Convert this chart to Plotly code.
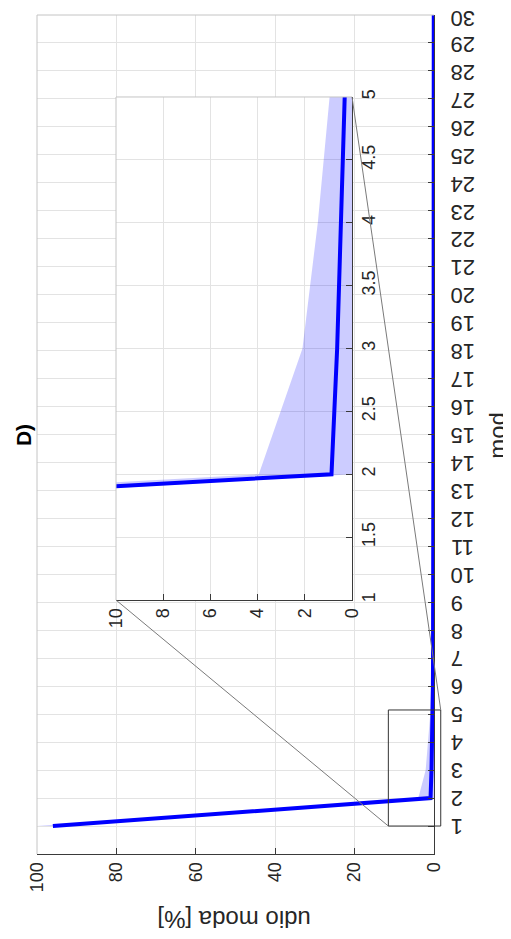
import plotly.graph_objects as go

# ---------------- data ----------------
MOD = list(range(1, 31))
MEAN = [96.0, 0.87, 0.63, 0.46, 0.31, 0.27, 0.24, 0.21, 0.19, 0.17,
        0.16, 0.15, 0.14, 0.13, 0.12, 0.11, 0.11, 0.10, 0.10, 0.09,
        0.09, 0.08, 0.08, 0.08, 0.07, 0.07, 0.07, 0.06, 0.06, 0.06]
UPPER = [100.0, 3.95, 2.10, 1.45, 0.95, 0.80, 0.70, 0.60, 0.55, 0.50,
         0.46, 0.42, 0.40, 0.38, 0.36, 0.34, 0.32, 0.30, 0.29, 0.28,
         0.27, 0.26, 0.25, 0.24, 0.23, 0.22, 0.21, 0.20, 0.20, 0.19]
LOWER = [92.0] + [0.0] * 29

MAIN_XTICKS = [0, 20, 40, 60, 80, 100]
MAIN_YTICKS = list(range(1, 31))
INSET_XTICKS = [0, 2, 4, 6, 8, 10]
INSET_YTICKS = [1, 1.5, 2, 2.5, 3, 3.5, 4, 4.5, 5]
INSET_YTEXT = ["1", "1.5", "2", "2.5", "3", "3.5", "4", "4.5", "5"]

ZOOM_VAL = [11.5, -1.7]   # zoom rectangle (value axis)
ZOOM_MOD = [1.0, 5.15]    # zoom rectangle (mod axis)

# ---------------- styles ----------------
BLUE = "rgb(0,0,255)"
BAND = "rgba(0,0,255,0.2)"
GRID = "#e3e3e3"
AXC = "#3a3a3a"
BORDER = "#c4c4c4"
FONT = "Liberation Sans, Arial, sans-serif"

MAIN_XR = [100, 0]
MAIN_YR = [0, 30]
INS_XR = [10, 0]
INS_YR = [1, 5]
INS_XD = [0.199, 0.7935]
INS_YD = [0.3027, 0.9023]


def band_trace(xa, ya):
    return go.Scatter(x=UPPER + LOWER[::-1], y=MOD + MOD[::-1], fill="toself",
                      fillcolor=BAND, line=dict(width=0), mode="lines",
                      hoverinfo="skip", showlegend=False, xaxis=xa, yaxis=ya)


def line_trace(xa, ya):
    return go.Scatter(x=MEAN, y=MOD, mode="lines", line=dict(color=BLUE, width=4),
                      showlegend=False, xaxis=xa, yaxis=ya)


fig = go.Figure()
fig.add_trace(band_trace("x", "y"))
fig.add_trace(line_trace("x", "y"))
fig.add_trace(band_trace("x2", "y2"))
fig.add_trace(line_trace("x2", "y2"))

tickfont = dict(family=FONT, size=18, color="#262626")
modfont = dict(family=FONT, size=22, color="#262626")
common = dict(ticks="inside", ticklen=6, tickcolor=AXC, showline=True,
              linecolor=AXC, linewidth=1, showgrid=True, gridcolor=GRID,
              gridwidth=1, zeroline=False, tickfont=tickfont, automargin=False)

# page body has an 8px default margin -> figure is 8px smaller than window
fig.update_layout(
    width=503, height=931, autosize=False,
    margin=dict(l=29, r=77, t=7, b=85, autoexpand=False),
    paper_bgcolor="white", plot_bgcolor="white",
    font=dict(family=FONT, color="#262626"),
    xaxis=dict(domain=[0, 1], anchor="y", range=MAIN_XR, tickvals=MAIN_XTICKS,
               tickangle=-90, **common),
    yaxis=dict(domain=[0, 1], anchor="x", side="right", range=MAIN_YR,
               tickvals=MAIN_YTICKS, showticklabels=False, **common),
    xaxis2=dict(domain=INS_XD, anchor="y2", range=INS_XR, tickvals=INSET_XTICKS,
                tickangle=-90, **common),
    yaxis2=dict(domain=INS_YD, anchor="x2", side="right", range=INS_YR,
                tickvals=INSET_YTICKS, ticktext=INSET_YTEXT, tickangle=-90,
                **common),
)


def to_px(v):
    return (v - MAIN_XR[0]) / (MAIN_XR[1] - MAIN_XR[0])


def to_py(m):
    return (m - MAIN_YR[0]) / (MAIN_YR[1] - MAIN_YR[0])


shapes = [
    # light box borders (top / left) of main and inset axes
    dict(type="line", xref="paper", yref="paper", x0=0, x1=1, y0=1, y1=1,
         line=dict(color=BORDER, width=1)),
    dict(type="line", xref="paper", yref="paper", x0=0, x1=0, y0=0, y1=1,
         line=dict(color=BORDER, width=1)),
    dict(type="line", xref="paper", yref="paper", x0=INS_XD[0], x1=INS_XD[1],
         y0=INS_YD[1], y1=INS_YD[1], line=dict(color=BORDER, width=1)),
    dict(type="line", xref="paper", yref="paper", x0=INS_XD[0], x1=INS_XD[0],
         y0=INS_YD[0], y1=INS_YD[1], line=dict(color=BORDER, width=1)),
    # zoom rectangle
    dict(type="rect", xref="paper", yref="paper",
         x0=to_px(ZOOM_VAL[0]), x1=to_px(ZOOM_VAL[1]),
         y0=to_py(ZOOM_MOD[0]), y1=to_py(ZOOM_MOD[1]),
         line=dict(color="#333333", width=1)),
    # connector lines
    dict(type="line", xref="paper", yref="paper",
         x0=to_px(ZOOM_VAL[0]), y0=to_py(ZOOM_MOD[0]), x1=INS_XD[0], y1=INS_YD[0],
         line=dict(color="#7a7a7a", width=1)),
    dict(type="line", xref="paper", yref="paper",
         x0=to_px(ZOOM_VAL[1]), y0=to_py(ZOOM_MOD[1]), x1=INS_XD[1], y1=INS_YD[1],
         line=dict(color="#7a7a7a", width=1)),
]
fig.update_layout(shapes=shapes)

# upside-down tick labels of the mod axis (topmost nudged to stay on the page)
for m in MAIN_YTICKS:
    fig.add_annotation(text=str(m), xref="paper", yref="y", x=1, y=m,
                       xanchor="left", yanchor="middle", xshift=15,
                       yshift=-4 if m == MAIN_YTICKS[-1] else -1,
                       showarrow=False, textangle=180, font=modfont)

fig.add_annotation(text="udio moda [%]", xref="paper", yref="paper", x=0.496,
                   y=-0.0787, xanchor="center", yanchor="middle",
                   showarrow=False, textangle=180,
                   font=dict(family=FONT, size=24, color="#262626"))
fig.add_annotation(text="mod", xref="paper", yref="paper", x=1.158, y=0.4994,
                   xanchor="center", yanchor="middle",
                   showarrow=False, textangle=-90,
                   font=dict(family=FONT, size=24, color="#262626"))
fig.add_annotation(text="<b>D)</b>", xref="paper", yref="paper", x=-0.035,
                   y=0.4994, xanchor="center", yanchor="middle",
                   showarrow=False, textangle=-90,
                   font=dict(family=FONT, size=21, color="#000000"))

fig.write_html("out.html")
